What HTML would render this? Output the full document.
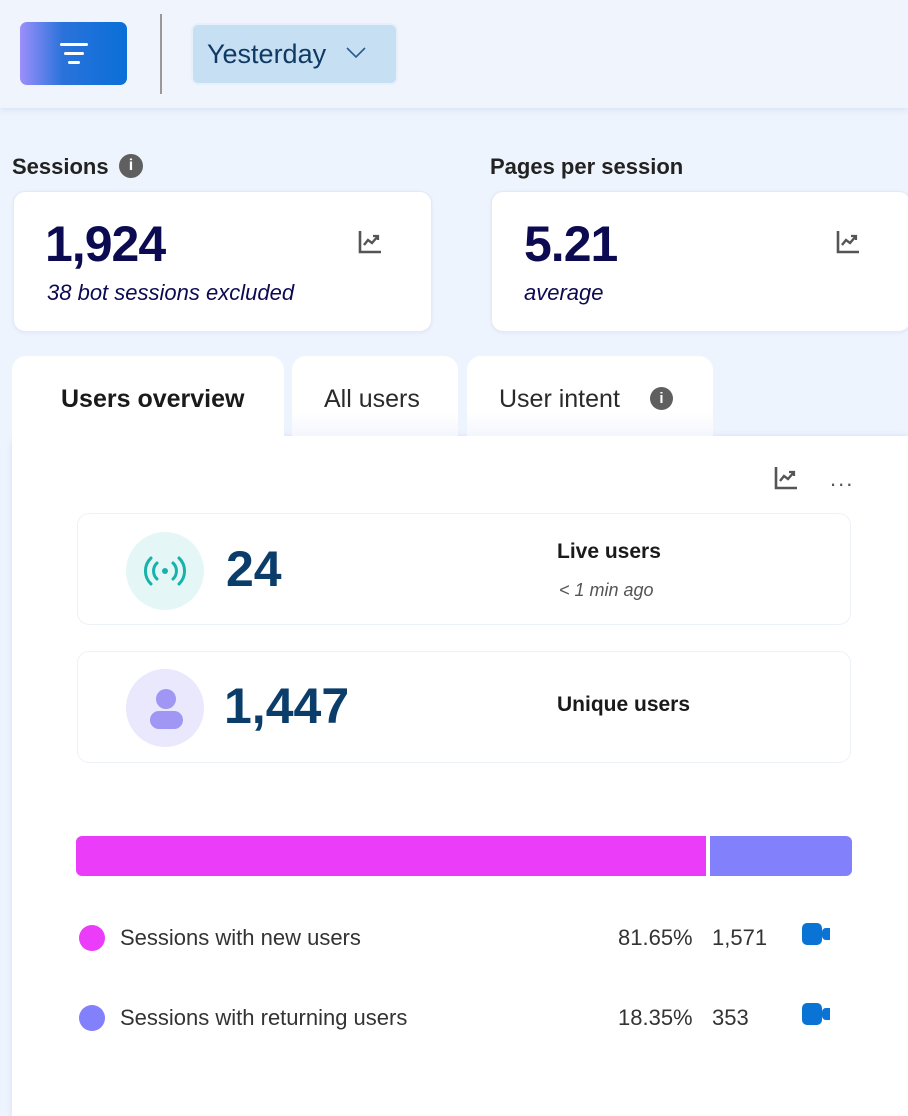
<!DOCTYPE html>
<html><head><meta charset="utf-8"><style>
*{margin:0;padding:0;box-sizing:border-box}
body{width:908px;height:1106px;overflow:hidden;background:#eef4fd;font-family:"Liberation Sans",sans-serif;position:relative}
.a{position:absolute}
.card{position:absolute;background:#fff;border:1px solid #e3e9f5;border-radius:12px;box-shadow:0 1px 3px rgba(120,140,200,.12)}
.t{position:absolute;white-space:nowrap}
</style></head><body>
<div class="a" style="left:0;top:0;width:908px;height:108px;background:#f0f5fd;box-shadow:0 2px 6px rgba(150,170,220,.25)"></div>
<div class="a" style="left:20px;top:22px;width:107px;height:63px;border-radius:7px;background:linear-gradient(90deg,#9b8ffb,#2a72db 40%,#0a6fd8)">
 <div class="a" style="left:40px;top:21px;width:28px;height:3px;background:#fff;border-radius:2px"></div>
 <div class="a" style="left:44px;top:30px;width:20px;height:3px;background:#fff;border-radius:2px"></div>
 <div class="a" style="left:48px;top:39px;width:12px;height:3px;background:#fff;border-radius:2px"></div>
</div>
<div class="a" style="left:160px;top:14px;width:2px;height:80px;background:#999"></div>
<div class="a" style="left:191px;top:23px;width:207px;height:62px;border-radius:7px;background:#c7dff3;border:2px solid #e6f0fb"></div>
<div class="t" style="left:207px;top:39px;font-size:27px;color:#0e3a63">Yesterday</div>
<svg class="a" style="left:345px;top:46px" width="22" height="14"><polyline points="2,2 11,11 20,2" fill="none" stroke="#2a5c8f" stroke-width="1.6"/></svg>

<div class="t" style="left:12px;top:154px;font-size:22px;font-weight:bold;color:#222">Sessions</div>
<div class="a" style="left:119px;top:154px;width:24px;height:24px;border-radius:50%;background:#5f5f5f;color:#fff;font-size:16px;font-weight:bold;text-align:center;line-height:24px">i</div>
<div class="t" style="left:490px;top:154px;font-size:22px;font-weight:bold;color:#222">Pages per session</div>

<div class="card" style="left:13px;top:191px;width:419px;height:141px"></div>
<div class="t" style="left:45px;top:215px;font-size:50px;font-weight:bold;color:#0c0b52;letter-spacing:-1px">1,924</div>
<div class="t" style="left:47px;top:280px;font-size:22px;font-style:italic;color:#0c0b52">38 bot sessions excluded</div>
<div class="card" style="left:491px;top:191px;width:420px;height:141px"></div>
<div class="t" style="left:524px;top:215px;font-size:50px;font-weight:bold;color:#0c0b52;letter-spacing:-1px">5.21</div>
<div class="t" style="left:524px;top:280px;font-size:22px;font-style:italic;color:#0c0b52">average</div>
<svg class="a" style="left:357px;top:229px" width="26" height="26"><path d="M3 2V23H24" fill="none" stroke="#555" stroke-width="2.6"/><polyline points="7,16 11,11 15,14 21,7" fill="none" stroke="#555" stroke-width="2.4"/><polyline points="16,7 21,7 21,11" fill="none" stroke="#555" stroke-width="2.2"/></svg>
<svg class="a" style="left:835px;top:229px" width="26" height="26"><path d="M3 2V23H24" fill="none" stroke="#555" stroke-width="2.6"/><polyline points="7,16 11,11 15,14 21,7" fill="none" stroke="#555" stroke-width="2.4"/><polyline points="16,7 21,7 21,11" fill="none" stroke="#555" stroke-width="2.2"/></svg>

<div class="a" style="left:12px;top:436px;width:896px;height:680px;background:#fff;border-radius:12px 0 0 0;box-shadow:0 0 6px rgba(150,170,220,.3)"></div>
<div class="a" style="left:12px;top:356px;width:272px;height:90px;background:#fff;border-radius:14px 14px 0 0"></div>
<div class="a" style="left:292px;top:356px;width:166px;height:80px;background:linear-gradient(#fff 70%,#f4f6fd);border-radius:14px 14px 0 0"></div>
<div class="a" style="left:467px;top:356px;width:246px;height:80px;background:linear-gradient(#fff 70%,#f4f6fd);border-radius:14px 14px 0 0"></div>
<div class="t" style="left:61px;top:385px;font-size:25px;font-weight:bold;color:#1a1a1a">Users overview</div>
<div class="t" style="left:324px;top:385px;font-size:25px;color:#2a2a2a">All users</div>
<div class="t" style="left:499px;top:385px;font-size:25px;color:#2a2a2a">User intent</div>
<div class="a" style="left:650px;top:387px;width:23px;height:23px;border-radius:50%;background:#5f5f5f;color:#fff;font-size:15px;font-weight:bold;text-align:center;line-height:23px">i</div>
<svg class="a" style="left:773px;top:465px" width="26" height="26"><path d="M3 2V23H24" fill="none" stroke="#555" stroke-width="2.6"/><polyline points="7,16 11,11 15,14 21,7" fill="none" stroke="#555" stroke-width="2.4"/><polyline points="16,7 21,7 21,11" fill="none" stroke="#555" stroke-width="2.2"/></svg>
<div class="t" style="left:830px;top:466px;font-size:22px;color:#555;letter-spacing:2px">...</div>

<div class="card" style="left:77px;top:513px;width:774px;height:112px;box-shadow:none;border-color:#edf1f8"></div>
<div class="a" style="left:126px;top:532px;width:78px;height:78px;border-radius:50%;background:#e4f7f6"></div>
<svg class="a" style="left:143px;top:555px" width="44" height="32"><circle cx="22" cy="16" r="3" fill="#17b2aa"/><path d="M14 8a11 11 0 0 0 0 16M30 8a11 11 0 0 1 0 16M8 3a18 18 0 0 0 0 26M36 3a18 18 0 0 1 0 26" fill="none" stroke="#17b2aa" stroke-width="3" stroke-linecap="round"/></svg>
<div class="t" style="left:226px;top:540px;font-size:50px;font-weight:bold;color:#0b3d6b">24</div>
<div class="t" style="left:557px;top:540px;font-size:21px;font-weight:bold;color:#1a1a1a">Live users</div>
<div class="t" style="left:559px;top:580px;font-size:18px;font-style:italic;color:#555">&lt; 1 min ago</div>

<div class="card" style="left:77px;top:651px;width:774px;height:112px;box-shadow:none;border-color:#edf1f8"></div>
<div class="a" style="left:126px;top:669px;width:78px;height:78px;border-radius:50%;background:#e9e8fc"></div>
<div class="a" style="left:156px;top:689px;width:20px;height:20px;border-radius:50%;background:#a096f4"></div>
<div class="a" style="left:150px;top:711px;width:33px;height:18px;border-radius:9px;background:#a096f4"></div>
<div class="t" style="left:224px;top:677px;font-size:50px;font-weight:bold;color:#0b3d6b">1,447</div>
<div class="t" style="left:557px;top:693px;font-size:21px;font-weight:bold;color:#1a1a1a">Unique users</div>

<div class="a" style="left:76px;top:836px;width:630px;height:40px;background:#ea3cf9;border-radius:6px 0 0 6px"></div>
<div class="a" style="left:710px;top:836px;width:142px;height:40px;background:#8380fc;border-radius:0 6px 6px 0"></div>

<div class="a" style="left:79px;top:925px;width:26px;height:26px;border-radius:50%;background:#ea3cf9"></div>
<div class="t" style="left:120px;top:925px;font-size:22px;color:#333">Sessions with new users</div>
<div class="t" style="left:618px;top:925px;font-size:22px;color:#333">81.65%</div>
<div class="t" style="left:712px;top:925px;font-size:22px;color:#333">1,571</div>
<div class="a" style="left:802px;top:923px;width:20px;height:22px;border-radius:5px;background:#0a73d6"></div>
<div class="a" style="left:822px;top:928px;width:8px;height:12px;border-radius:4px 0 0 4px;background:#0a73d6"></div>

<div class="a" style="left:79px;top:1005px;width:26px;height:26px;border-radius:50%;background:#8380fc"></div>
<div class="t" style="left:120px;top:1005px;font-size:22px;color:#333">Sessions with returning users</div>
<div class="t" style="left:618px;top:1005px;font-size:22px;color:#333">18.35%</div>
<div class="t" style="left:712px;top:1005px;font-size:22px;color:#333">353</div>
<div class="a" style="left:802px;top:1003px;width:20px;height:22px;border-radius:5px;background:#0a73d6"></div>
<div class="a" style="left:822px;top:1008px;width:8px;height:12px;border-radius:4px 0 0 4px;background:#0a73d6"></div>
</body></html>
